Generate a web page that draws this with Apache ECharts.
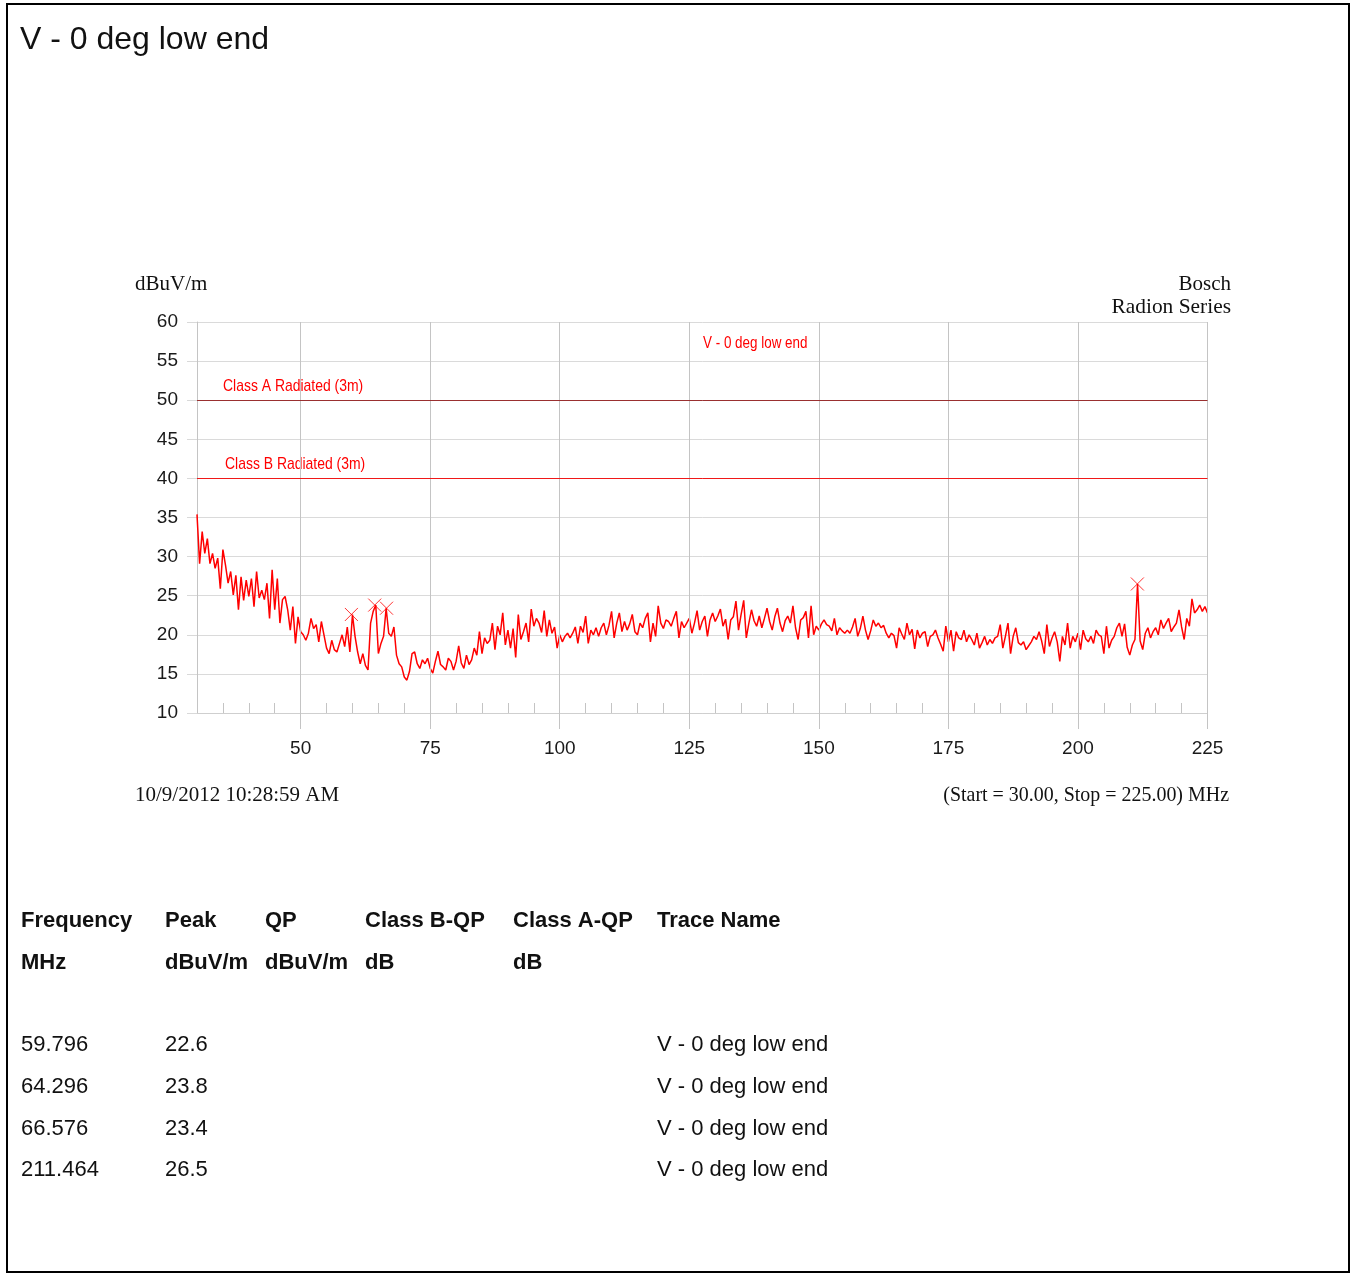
<!DOCTYPE html>
<html><head><meta charset="utf-8">
<script src="https://cdn.jsdelivr.net/npm/echarts@6/dist/echarts.min.js"></script>
<style>html,body{margin:0;padding:0;background:#fff}#c{width:1351px;height:1274px}</style>
</head><body><div id="c"></div>
<script>
const chartTitle = 'V - 0 deg low end';
const unitLabel = 'dBuV/m';
const brandLines = ['Bosch', 'Radion Series'];
const timestamp = '10/9/2012 10:28:59 AM';
const sweepNote = '(Start = 30.00, Stop = 225.00) MHz';
const sweepStart = 30, sweepStop = 225, sweepStep = 0.5;
const yMin = 10, yMax = 60, yStep = 5;
const xLabelTicks = [50, 75, 100, 125, 150, 175, 200, 225];
const limitNames = ['Class A Radiated (3m)', 'Class B Radiated (3m)'];
const limitLevels = [50, 40];
const traceName = 'V - 0 deg low end';
// measured level (dBuV/m) every 0.5 MHz from 30 to 225 MHz
const traceLevels = [
  35.4, 29.1, 33.2, 30.4, 32.3, 29.1, 30.4, 28.5, 29.8, 25.9,
  30.9, 28.9, 26.6, 28.1, 25.1, 27.6, 23.2, 27.4, 24.4, 27.0,
  24.9, 27.2, 23.6, 28.1, 24.7, 25.7, 24.5, 26.6, 22.1, 28.3,
  23.2, 27.2, 21.5, 24.5, 24.9, 23.2, 20.6, 23.6, 18.9, 22.3,
  20.4, 20.0, 19.3, 20.2, 22.1, 20.8, 21.3, 19.1, 21.7, 20.0,
  18.3, 17.6, 19.3, 18.1, 17.8, 18.9, 20.0, 18.5, 21.0, 17.8,
  22.6, 19.8, 17.8, 16.3, 17.6, 16.1, 15.5, 21.5, 23.0, 23.8,
  17.6, 18.9, 19.8, 23.4, 20.2, 19.8, 21.0, 17.4, 16.3, 15.9,
  14.6, 14.2, 15.3, 17.6, 17.8, 16.3, 15.7, 16.8, 16.3, 17.0,
  15.7, 15.1, 16.6, 17.9, 16.2, 15.9, 15.5, 17.0, 16.6, 15.5,
  16.6, 18.6, 16.4, 15.7, 17.4, 16.2, 16.8, 18.3, 17.4, 20.4,
  17.6, 19.6, 18.9, 19.3, 21.5, 18.1, 21.1, 20.0, 22.8, 18.7,
  20.6, 18.3, 20.8, 17.1, 22.6, 19.4, 20.4, 21.5, 19.1, 23.3,
  21.1, 22.1, 21.5, 20.3, 23.1, 19.8, 21.9, 20.2, 21.0, 18.3,
  20.0, 19.1, 19.8, 20.2, 19.6, 20.2, 21.0, 18.9, 21.1, 20.3,
  22.4, 18.9, 20.6, 20.0, 20.9, 19.8, 20.9, 21.5, 20.0, 21.2,
  23.0, 19.6, 21.5, 22.8, 20.4, 21.7, 20.6, 21.4, 22.6, 20.4,
  20.0, 21.5, 20.9, 22.1, 22.8, 19.1, 21.5, 19.8, 23.7, 21.5,
  20.8, 21.9, 21.7, 21.1, 22.1, 23.0, 19.6, 21.7, 20.9, 21.5,
  22.1, 20.2, 21.5, 23.1, 20.6, 21.7, 22.4, 19.8, 21.9, 22.8,
  21.7, 22.4, 23.3, 21.1, 22.0, 19.4, 21.9, 22.3, 24.3, 20.6,
  22.6, 24.4, 19.6, 21.5, 23.2, 21.8, 21.1, 22.4, 20.9, 22.1,
  23.4, 21.7, 20.6, 22.3, 23.4, 21.5, 20.4, 21.8, 22.4, 21.5,
  23.7, 20.9, 19.4, 21.9, 22.2, 23.0, 19.6, 23.7, 20.0, 21.1,
  20.6, 21.4, 21.9, 21.3, 21.1, 20.5, 22.1, 20.0, 20.9, 20.5,
  20.2, 20.6, 20.2, 21.0, 22.1, 19.8, 20.8, 22.4, 20.6, 19.4,
  20.5, 21.9, 21.1, 21.5, 20.9, 21.2, 20.2, 19.6, 20.2, 19.9,
  18.3, 20.9, 20.1, 19.4, 21.5, 20.0, 20.7, 18.2, 20.6, 19.6,
  20.2, 20.4, 18.5, 19.8, 20.0, 20.6, 19.6, 18.8, 17.9, 21.1,
  19.1, 20.6, 17.9, 20.4, 19.6, 19.4, 20.6, 19.1, 20.0, 19.4,
  18.7, 20.2, 18.3, 19.0, 19.8, 18.7, 19.4, 18.9, 19.6, 19.8,
  21.3, 18.3, 19.8, 21.5, 17.6, 19.8, 20.9, 19.0, 18.7, 19.1,
  18.1, 18.6, 19.1, 19.8, 19.4, 20.4, 19.2, 17.6, 21.3, 18.5,
  19.6, 20.4, 19.1, 16.6, 19.8, 18.7, 21.5, 18.3, 19.8, 19.1,
  20.2, 18.1, 20.6, 19.5, 19.1, 19.8, 18.9, 20.6, 20.0, 19.8,
  17.6, 21.1, 18.3, 19.3, 19.8, 20.9, 21.5, 19.8, 21.4, 18.4,
  17.4, 18.7, 19.4, 26.5, 19.2, 18.1, 20.2, 20.9, 19.6, 20.4,
  20.9, 20.0, 21.9, 20.8, 21.5, 22.1, 20.4, 21.0, 21.5, 23.2,
  21.0, 19.4, 22.1, 21.1, 24.6, 22.8, 23.2, 23.8, 23.0, 23.6,
  22.8
];
const peakFreqs = [59.796, 64.296, 66.576, 211.464];
const peakLevels = [22.6, 23.8, 23.4, 26.5];
const tableHead1 = ['Frequency', 'Peak', 'QP', 'Class B-QP', 'Class A-QP', 'Trace Name'];
const tableHead2 = ['MHz', 'dBuV/m', 'dBuV/m', 'dB', 'dB', ''];

const SANS = "'Liberation Sans', Arial, sans-serif";
const SERIF = "'Liberation Serif', 'Times New Roman', serif";
const RED = '#ff0000';

const tracePoints = traceLevels.map((v, i) => [sweepStart + i * sweepStep, v]);
const peakPoints = peakFreqs.map((f, i) => [f, peakLevels[i]]);

const chart = echarts.init(document.getElementById('c'), null, {renderer: 'canvas'});

const grid = {left: 197, right: 143.5, top: 322, bottom: 561};

const option = {
  animation: false,
  backgroundColor: '#fff',
  grid: grid,
  xAxis: [
    {
      type: 'value', min: sweepStart, max: sweepStop, interval: 5,
      axisLine: {show: true, lineStyle: {color: '#cfcfcf', width: 1}},
      axisTick: {show: true, inside: true, length: 10, lineStyle: {color: '#c4c4c4'}},
      axisLabel: {show: false},
      splitLine: {show: false}
    },
    {
      type: 'value', min: sweepStart, max: sweepStop, position: 'bottom',
      axisLine: {show: false},
      axisTick: {show: true, length: 16, customValues: xLabelTicks, lineStyle: {color: '#c4c4c4'}},
      axisLabel: {show: true, customValues: xLabelTicks, fontSize: 19, color: '#1a1a1a', fontFamily: SANS, margin: 26},
      splitLine: {show: false}
    }
  ],
  yAxis: {
    type: 'value', min: yMin, max: yMax, interval: yStep,
    axisLine: {show: true, lineStyle: {color: '#c4c4c4'}},
    axisTick: {show: true, length: 10, lineStyle: {color: '#d9d9d9'}},
    axisLabel: {fontSize: 19, color: '#1a1a1a', fontFamily: SANS, margin: 19},
    splitLine: {show: true, lineStyle: {color: '#dadada', width: 1}}
  },
  series: [
    {
      type: 'line', data: [], z: 1, silent: true,
      markLine: {
        silent: true, symbol: 'none', animation: false,
        label: {show: false},
        lineStyle: {color: '#c4c4c4', width: 1, type: 'solid'},
        data: xLabelTicks.map(v => ({xAxis: v}))
      }
    },
    {
      type: 'line', data: [], z: 2, silent: true,
      markLine: {
        silent: true, symbol: 'none', animation: false,
        label: {show: false},
        data: limitLevels.map((v, i) => ({yAxis: v, lineStyle: {color: i === 0 ? '#9a3030' : '#f01818', width: 1, type: 'solid'}}))
      }
    },
    {
      type: 'line', name: traceName, data: tracePoints, z: 3,
      showSymbol: false, symbol: 'none',
      lineStyle: {color: RED, width: 1.5},
      emphasis: {disabled: true}
    },
    {
      type: 'scatter', data: peakPoints, z: 4,
      symbol: 'path://M0,0L10,10M10,0L0,10', symbolSize: 13,
      itemStyle: {color: 'none', borderColor: RED, borderWidth: 1}
    }
  ]
};
chart.setOption(option);

// text layer
const x0 = chart.convertToPixel({xAxisIndex: 0}, sweepStart);
const graphics = [];
function txt(x, y, text, font, size, opts) {
  opts = opts || {};
  graphics.push({
    type: 'text', x: x, y: y, silent: true, scaleX: opts.scaleX || 1,
    style: {
      text: text, fill: opts.color || '#111', font: (opts.weight || 'normal') + ' ' + size + 'px ' + font,
      textAlign: opts.align || 'left', textVerticalAlign: 'middle'
    }
  });
}
graphics.push({type: 'rect', shape: {x: 7, y: 4, width: 1342, height: 1268},
  style: {fill: 'none', stroke: '#000', lineWidth: 2}, silent: true});
txt(20, 40, chartTitle, SANS, 32);
txt(135, 284, unitLabel, SERIF, 21);
txt(1231, 284, brandLines[0], SERIF, 21, {align: 'right'});
txt(1231, 307, brandLines[1], SERIF, 21, {align: 'right', scaleX: 1.02});
txt(135, 795, timestamp, SERIF, 21);
txt(1229, 795, sweepNote, SERIF, 21, {align: 'right', scaleX: 0.95});
txt(703, 343, traceName, SANS, 17, {color: RED, scaleX: 0.79});
limitLevels.forEach((v, i) => {
  const y = chart.convertToPixel({yAxisIndex: 0}, v);
  txt(x0 + 26 + (i === 1 ? 2 : 0), y - 14, limitNames[i], SANS, 17, {color: RED, scaleX: 0.82});
});
const colX = [21, 165, 265, 365, 513, 657];
tableHead1.forEach((t, i) => txt(colX[i], 921, t, SANS, 22, {weight: 'bold'}));
tableHead2.forEach((t, i) => txt(colX[i], 963, t, SANS, 22, {weight: 'bold'}));
const rowY = [1045, 1087, 1129, 1170];
peakFreqs.forEach((f, r) => {
  txt(colX[0], rowY[r], f.toFixed(3), SANS, 22);
  txt(colX[1], rowY[r], peakLevels[r].toFixed(1), SANS, 22);
  txt(colX[5], rowY[r], traceName, SANS, 22);
});
chart.setOption({graphic: {elements: graphics}});
</script></body></html>
